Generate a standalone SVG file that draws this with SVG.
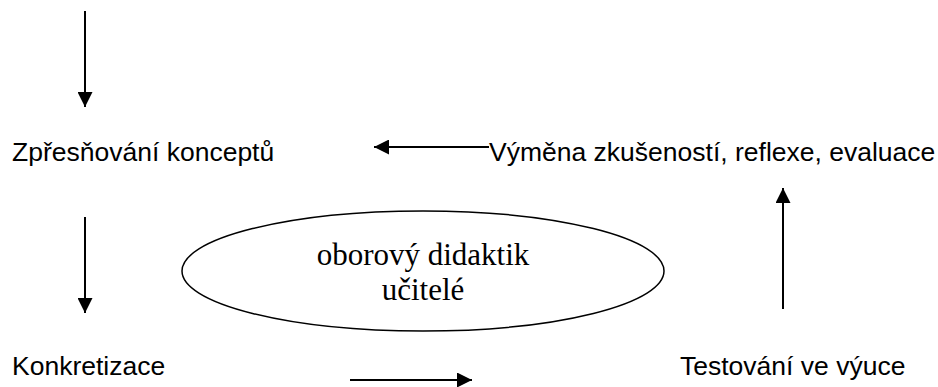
<svg xmlns="http://www.w3.org/2000/svg" width="938" height="387" viewBox="0 0 938 387">
<defs>
<marker id="ah" viewBox="0 0 10 10" refX="10" refY="5" markerWidth="7.5" markerHeight="7.5" markerUnits="strokeWidth" orient="auto">
<path d="M0,0 L10,5 L0,10 Z" fill="#000"/>
</marker>
<style>
.lbl{font-family:"Liberation Sans",Arial,sans-serif;font-size:26.5px;fill:#000}
.ser{font-family:"Liberation Serif","Times New Roman",serif;font-size:31px;fill:#000}
.con{stroke:#000;stroke-width:2;fill:none;marker-end:url(#ah)}
</style>
</defs>
<rect width="938" height="387" fill="#fff"/>
<g id="connectors">
<line class="con" x1="85" y1="11" x2="85" y2="107"/>
<line class="con" x1="489" y1="147" x2="374" y2="147"/>
<line class="con" x1="85" y1="217" x2="85" y2="313"/>
<line class="con" x1="783" y1="309" x2="783" y2="188"/>
<line class="con" x1="350" y1="380" x2="472" y2="380"/>
</g>
<g id="node-zpresnovani"><text class="lbl" x="12" y="161">Zpřesňování konceptů</text></g>
<g id="node-vymena"><text class="lbl" x="489" y="161">Výměna zkušeností, reflexe, evaluace</text></g>
<g id="node-center">
<ellipse cx="423" cy="271" rx="241" ry="60" fill="#fff" stroke="#000" stroke-width="1.5"/>
<text class="ser" x="423" y="265" text-anchor="middle">oborový didaktik</text>
<text class="ser" x="423" y="300" text-anchor="middle">učitelé</text>
</g>
<g id="node-konkretizace"><text class="lbl" x="12" y="375">Konkretizace</text></g>
<g id="node-testovani"><text class="lbl" x="680" y="375">Testování ve výuce</text></g>
</svg>
